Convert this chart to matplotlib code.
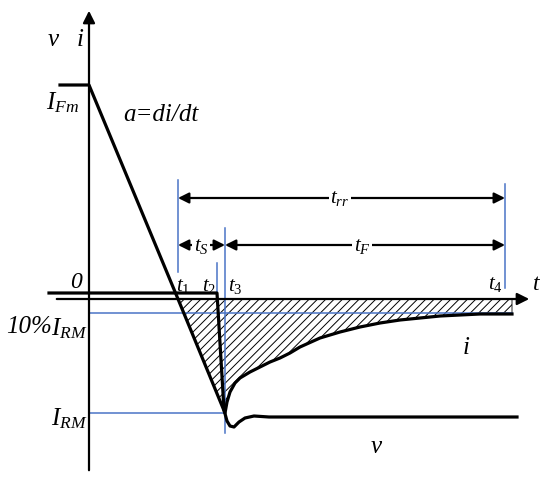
import numpy as np
import matplotlib.pyplot as plt

plt.rcParams['font.family'] = 'Liberation Serif'
plt.rcParams['mathtext.fontset'] = 'custom'
plt.rcParams['mathtext.it'] = 'Liberation Serif:italic'
plt.rcParams['mathtext.rm'] = 'Liberation Serif'
plt.rcParams['hatch.linewidth'] = 0.7

# values (time / amplitude in arbitrary units)
i_fm = 214
i_rm = -114
i_10 = -14
t1, t2, t3, t4 = 89, 128, 136, 416

# current i
i_t = [-29, 0, t1, t3, 138, 141, 146, 151, 161, 171, 181, 191, 201, 211,
       231, 251, 271, 291, 311, 331, 351, 371, 391, 411, 423]
i_v = [i_fm, i_fm, 0, i_rm, -103, -93, -84, -79, -73, -68, -63, -59, -54, -48,
       -39, -33, -28, -24, -21, -19, -17, -16, -15, -15, -15]

# voltage v
v_t = [-40, t2, 135, 138, 141, 145, 150, 156, 165, 180, 428]
v_v = [6, 6, -111, -122, -127, -128, -123, -119, -117, -118, -118]

blue = '#4a74c6'

fig = plt.figure(figsize=(5.5, 4.84), dpi=100)
ax = fig.add_axes([0, 0, 1, 1])
ax.set_xlim(-89, 461)
ax.set_ylim(-185, 299)
ax.axis('off')

# hatched reverse recovery charge
rec_t = i_t[2:]
rec_v = i_v[2:]
ax.fill(rec_t + [rec_t[-1]], rec_v + [0], facecolor='none', edgecolor='k',
        hatch='////', lw=0.6)

# axes with arrows
ax.annotate('', xy=(0, 291), xytext=(0, -174),
            arrowprops=dict(arrowstyle='-|>', lw=1.6, color='k', mutation_scale=18))
ax.annotate('', xy=(443, 0), xytext=(-35, 0),
            arrowprops=dict(arrowstyle='-|>', lw=1.6, color='k', mutation_scale=18))

# blue guide lines
ax.plot([0, 423], [i_10, i_10], color=blue, lw=1.1)
ax.plot([0, t3], [i_rm, i_rm], color=blue, lw=1.1)
ax.plot([t1, t1], [27, 119], color=blue, lw=1.1)
ax.plot([t2, t2], [1, 36], color=blue, lw=1.1)
ax.plot([t3, t3], [-134, 71], color=blue, lw=1.1)
ax.plot([t4, t4], [11, 115], color=blue, lw=1.1)

# curves
ax.plot(i_t, i_v, color='k', lw=2.3, solid_joinstyle='round')
ax.plot(v_t, v_v, color='k', lw=2.3, solid_joinstyle='round')

# time interval arrows
arr = dict(arrowstyle='<|-|>', lw=1.6, color='k', mutation_scale=16, shrinkA=0, shrinkB=0)
ax.annotate('', xy=(t1, 101), xytext=(t4, 101), arrowprops=arr)
ax.annotate('', xy=(t1, 54), xytext=(t3, 54), arrowprops=arr)
ax.annotate('', xy=(t3, 54), xytext=(t4, 54), arrowprops=arr)
wb = dict(facecolor='white', edgecolor='none', pad=1)
ax.text(251, 101, '$t_{rr}$', fontsize=15, ha='center', va='center', bbox=wb)
ax.text(112, 52, '$t_{S}$', fontsize=15, ha='center', va='center', bbox=wb)
ax.text(273, 52, '$t_{F}$', fontsize=15, ha='center', va='center', bbox=wb)

# labels
ax.text(-23, 259, '$v$   $i$', fontsize=18, ha='center', va='center')
ax.text(-26, 196, '$I_{Fm}$', fontsize=18, ha='center', va='center')
ax.text(72, 184, 'a=di/dt', fontsize=18, style='italic', ha='center', va='center')
ax.text(-13, 16, '0', fontsize=17, style='italic', ha='center', va='center')
ax.text(-37, -28, '10%', fontsize=18, style='italic', ha='right', va='center')
ax.text(-20, -30, '$I_{RM}$', fontsize=18, ha='center', va='center')
ax.text(-20, -120, '$I_{RM}$', fontsize=18, ha='center', va='center')
ax.text(t1 + 5, 12, '$t_1$', fontsize=15, ha='center', va='center')
ax.text(t2 - 8, 12, '$t_2$', fontsize=15, ha='center', va='center')
ax.text(t3 + 10, 12, '$t_3$', fontsize=15, ha='center', va='center')
ax.text(t4 - 10, 14, '$t_4$', fontsize=15, ha='center', va='center')
ax.text(448, 15, '$t$', fontsize=17, ha='center', va='center')
ax.text(377, -49, '$i$', fontsize=18, ha='center', va='center')
ax.text(288, -148, '$v$', fontsize=18, ha='center', va='center')

fig.savefig('out.png', dpi=100)
